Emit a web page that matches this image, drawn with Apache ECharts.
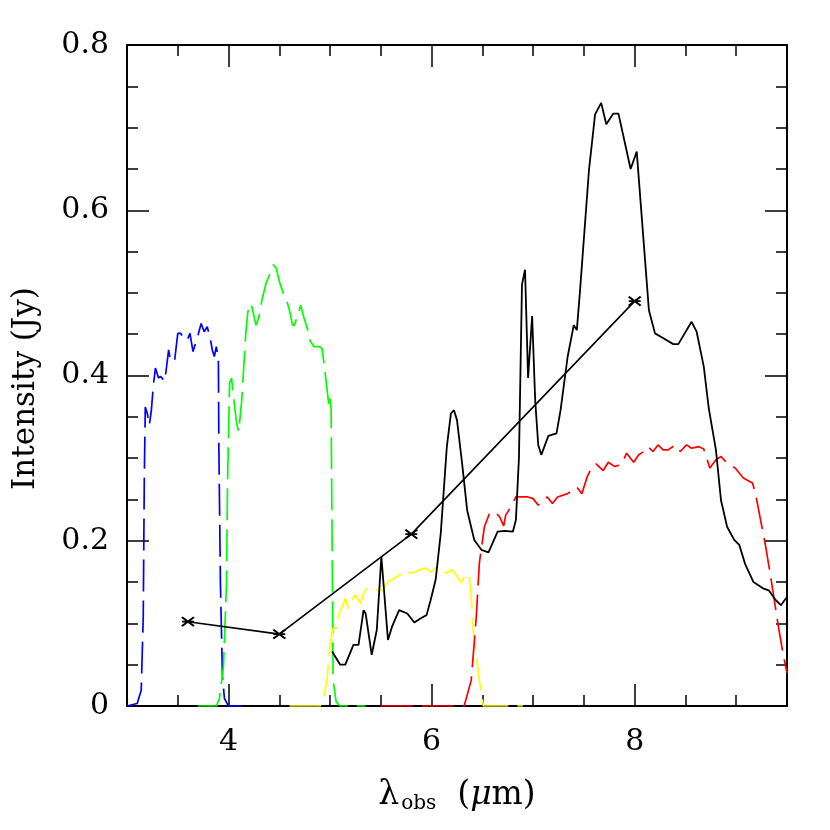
<!DOCTYPE html>
<html>
<head>
<meta charset="utf-8">
<script src="https://cdn.jsdelivr.net/npm/echarts@6/dist/echarts.min.js"></script>
<style>
  html, body { margin: 0; padding: 0; background: #fff; }
  #chart { width: 830px; height: 830px; }
</style>
</head>
<body>
<div id="chart"></div>
<script>
// filter transmission curves (scaled), [wavelength um, Jy]
const blueFilter = [
  [3.00, 0], [3.10, 0.003], [3.14, 0.019], [3.16, 0.108], [3.17, 0.27], [3.18, 0.362],
  [3.20, 0.354], [3.22, 0.340], [3.24, 0.358], [3.26, 0.389], [3.28, 0.409], [3.31, 0.397],
  [3.33, 0.399], [3.37, 0.393], [3.38, 0.401], [3.41, 0.431], [3.43, 0.417], [3.47, 0.419],
  [3.50, 0.451], [3.53, 0.451], [3.56, 0.443], [3.60, 0.445], [3.62, 0.451], [3.65, 0.429],
  [3.70, 0.449], [3.73, 0.463], [3.76, 0.453], [3.79, 0.459], [3.82, 0.445], [3.84, 0.431],
  [3.86, 0.423], [3.88, 0.435], [3.90, 0.419], [3.905, 0.31], [3.92, 0.149], [3.94, 0.035],
  [3.96, 0.009], [4.00, 0], [4.20, 0]
];
const greenFilter = [
  [3.70, 0], [3.88, 0], [3.91, 0.009], [3.95, 0.048], [3.98, 0.149], [3.99, 0.27],
  [4.01, 0.391], [4.03, 0.397], [4.04, 0.383], [4.08, 0.342], [4.10, 0.332], [4.13, 0.370],
  [4.15, 0.411], [4.17, 0.451], [4.19, 0.477], [4.22, 0.487], [4.23, 0.483], [4.27, 0.461],
  [4.30, 0.471], [4.33, 0.492], [4.37, 0.512], [4.41, 0.524], [4.44, 0.534], [4.47, 0.530],
  [4.50, 0.514], [4.54, 0.499], [4.57, 0.492], [4.60, 0.479], [4.63, 0.461], [4.65, 0.461],
  [4.69, 0.477], [4.71, 0.485], [4.74, 0.471], [4.78, 0.455], [4.80, 0.443], [4.84, 0.435],
  [4.89, 0.435], [4.92, 0.433], [4.94, 0.415], [4.97, 0.383], [4.99, 0.362], [5.00, 0.372],
  [5.01, 0.36], [5.02, 0.2], [5.03, 0.031], [5.06, 0.005], [5.10, 0], [5.35, 0]
];
const yellowFilter = [
  [4.60, 0], [4.90, 0], [4.93, 0.007], [4.97, 0.031], [5.00, 0.076], [5.03, 0.094],
  [5.06, 0.094], [5.09, 0.112], [5.12, 0.120], [5.15, 0.130], [5.18, 0.118], [5.21, 0.128],
  [5.25, 0.134], [5.30, 0.124], [5.33, 0.136], [5.36, 0.142], [5.41, 0.142], [5.46, 0.140],
  [5.51, 0.140], [5.57, 0.150], [5.61, 0.153], [5.64, 0.155], [5.69, 0.159], [5.73, 0.157],
  [5.76, 0.162], [5.81, 0.161], [5.89, 0.165], [5.94, 0.167], [5.99, 0.162], [6.04, 0.167],
  [6.09, 0.165], [6.15, 0.161], [6.20, 0.165], [6.25, 0.157], [6.29, 0.149], [6.34, 0.161],
  [6.37, 0.157], [6.39, 0.132], [6.41, 0.092], [6.44, 0.064], [6.46, 0.040], [6.49, 0.015],
  [6.51, 0], [6.90, 0]
];
const redFilter = [
  [5.50, 0], [6.32, 0], [6.39, 0.031], [6.44, 0.108], [6.47, 0.173], [6.52, 0.217],
  [6.57, 0.233], [6.62, 0.235], [6.67, 0.229], [6.71, 0.218], [6.73, 0.231], [6.78, 0.241],
  [6.83, 0.253], [6.88, 0.253], [6.95, 0.253], [7.00, 0.251], [7.05, 0.243], [7.09, 0.249],
  [7.14, 0.253], [7.19, 0.245], [7.24, 0.253], [7.34, 0.257], [7.43, 0.265], [7.48, 0.257],
  [7.53, 0.277], [7.57, 0.287], [7.62, 0.293], [7.69, 0.285], [7.74, 0.295], [7.80, 0.290],
  [7.87, 0.292], [7.92, 0.306], [7.99, 0.295], [8.04, 0.304], [8.09, 0.308], [8.13, 0.314],
  [8.18, 0.308], [8.23, 0.316], [8.28, 0.310], [8.33, 0.310], [8.40, 0.316], [8.45, 0.308],
  [8.51, 0.316], [8.56, 0.312], [8.63, 0.314], [8.68, 0.311], [8.74, 0.288], [8.80, 0.298],
  [8.85, 0.302], [8.91, 0.294], [8.99, 0.288], [9.07, 0.276], [9.16, 0.270], [9.19, 0.257],
  [9.24, 0.225], [9.29, 0.193], [9.34, 0.156], [9.41, 0.100], [9.46, 0.064], [9.50, 0.040]
];
// IRS spectrum
const spectrum = [
  [5.02, 0.066], [5.10, 0.050], [5.15, 0.050], [5.23, 0.074], [5.28, 0.074], [5.33, 0.116],
  [5.35, 0.112], [5.41, 0.062], [5.46, 0.092], [5.505, 0.181], [5.57, 0.080], [5.61, 0.096],
  [5.68, 0.116], [5.76, 0.112], [5.83, 0.101], [5.89, 0.106], [5.95, 0.110], [5.99, 0.128],
  [6.04, 0.153], [6.09, 0.209], [6.15, 0.314], [6.19, 0.354], [6.22, 0.358], [6.25, 0.346],
  [6.30, 0.294], [6.35, 0.237], [6.42, 0.201], [6.49, 0.189], [6.56, 0.186], [6.60, 0.197],
  [6.65, 0.211], [6.72, 0.212], [6.80, 0.211], [6.83, 0.225], [6.86, 0.30], [6.89, 0.51],
  [6.92, 0.528], [6.95, 0.397], [6.99, 0.472], [7.02, 0.37], [7.05, 0.316], [7.08, 0.304],
  [7.15, 0.327], [7.23, 0.330], [7.27, 0.358], [7.34, 0.423], [7.40, 0.461], [7.43, 0.455],
  [7.46, 0.500], [7.55, 0.649], [7.61, 0.716], [7.67, 0.730], [7.72, 0.704], [7.79, 0.717],
  [7.84, 0.717], [7.96, 0.650], [8.02, 0.671], [8.14, 0.479], [8.20, 0.451], [8.27, 0.446],
  [8.38, 0.438], [8.43, 0.438], [8.56, 0.465], [8.61, 0.453], [8.68, 0.411], [8.73, 0.360],
  [8.80, 0.310], [8.85, 0.249], [8.91, 0.217], [8.98, 0.201], [9.03, 0.195], [9.09, 0.171],
  [9.17, 0.150], [9.27, 0.142], [9.32, 0.140], [9.39, 0.128], [9.44, 0.122], [9.50, 0.132]
];
// IRAC photometry
const photX = [3.6, 4.5, 5.8, 8.0];
const photY = [0.102, 0.087, 0.208, 0.49];

const xMajor = [4, 6, 8];
const xMinor = [3.5, 4, 4.5, 5, 5.5, 6, 6.5, 7, 7.5, 8, 8.5, 9];

const font = 'DejaVu Serif';
const dash = [32, 9];

const chart = echarts.init(document.getElementById('chart'));

// x axes: one for majors (with labels) and one for minors, mirrored on top
const xBase = { type: 'value', min: 3, max: 9.5, splitLine: { show: false } };
const frameLine = { show: true, lineStyle: { color: '#000', width: 2 } };
const tickStyle = { color: '#000', width: 1.5 };
const xAxes = [
  Object.assign({}, xBase, {
    position: 'bottom',
    axisLine: frameLine,
    axisTick: { show: true, inside: true, length: 22, customValues: xMajor, lineStyle: tickStyle },
    axisLabel: { customValues: xMajor, color: '#000', fontFamily: font, fontSize: 30, margin: 21 },
    name: '{a|λ}{sub|obs}{a|  (}{mu|μ}{a|m)}',
    nameLocation: 'middle',
    nameGap: 70,
    nameTextStyle: {
      rich: {
        a: { fontFamily: font, fontSize: 33, color: '#000' },
        mu: { fontFamily: font, fontSize: 33, color: '#000', fontStyle: 'italic' },
        sub: { fontFamily: font, fontSize: 20, color: '#000', padding: [18, 0, 0, 2] },
      },
    },
  }),
  Object.assign({}, xBase, {
    position: 'bottom',
    axisLine: { show: false },
    axisTick: { show: true, inside: true, length: 11, customValues: xMinor, lineStyle: tickStyle },
    axisLabel: { show: false },
  }),
  Object.assign({}, xBase, {
    position: 'top',
    axisLine: frameLine,
    axisTick: { show: true, inside: true, length: 22, customValues: xMajor, lineStyle: tickStyle },
    axisLabel: { show: false },
  }),
  Object.assign({}, xBase, {
    position: 'top',
    axisLine: { show: false },
    axisTick: { show: true, inside: true, length: 11, customValues: xMinor, lineStyle: tickStyle },
    axisLabel: { show: false },
  }),
];

const yBase = {
  type: 'value', min: 0, max: 0.8, interval: 0.2,
  splitLine: { show: false },
  axisLine: frameLine,
  axisTick: { show: true, inside: true, length: 22, lineStyle: tickStyle },
  minorTick: { show: true, splitNumber: 4, length: 11, lineStyle: tickStyle },
};
const yAxes = [
  Object.assign({}, yBase, {
    position: 'left',
    axisLabel: { color: '#000', fontFamily: font, fontSize: 30, margin: 18 },
    name: 'Intensity (Jy)',
    nameLocation: 'middle',
    nameGap: 86,
    nameTextStyle: { color: '#000', fontFamily: font, fontSize: 31, padding: [0, 26, 0, 0] },
  }),
  Object.assign({}, yBase, {
    position: 'right',
    axisLabel: { show: false },
  }),
];

const filterSeries = (data, color) => ({
  type: 'line',
  data: data,
  showSymbol: false,
  symbol: 'none',
  silent: true,
  lineStyle: { color: color, width: 1.7, type: dash },
});

chart.setOption({
  animation: false,
  backgroundColor: '#fff',
  grid: { left: 127, right: 43, top: 45, bottom: 124, containLabel: false },
  xAxis: xAxes,
  yAxis: yAxes,
  series: [
    filterSeries(blueFilter, '#0000ff'),
    filterSeries(greenFilter, '#00ff00'),
    filterSeries(yellowFilter, '#ffff00'),
    filterSeries(redFilter, '#ff0000'),
    {
      type: 'line',
      data: spectrum,
      symbol: 'none',
      lineStyle: { color: '#000', width: 1.8 },
    },
    {
      type: 'line',
      data: photX.map((x, i) => [x, photY[i]]),
      symbol: 'path://M0,0L12,9M0,9L12,0M0,4.5L12,4.5',
      symbolSize: [12, 9],
      showSymbol: true,
      itemStyle: { color: 'none', borderColor: '#000', borderWidth: 2 },
      lineStyle: { color: '#000', width: 1.6 },
    },
  ],
});
</script>
</body>
</html>
